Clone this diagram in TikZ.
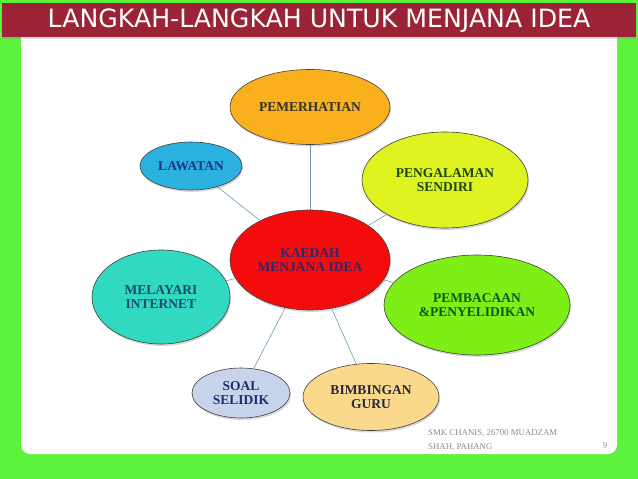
\documentclass[tikz,border=0pt]{standalone}
\usepackage{fontspec}
\setmainfont{Liberation Serif}
\newfontfamily\titlefont{DejaVu Sans}
\usetikzlibrary{shapes.geometric,shadows}

\definecolor{bggreen}{HTML}{5DF23B}
\definecolor{titlered}{HTML}{9B2335}
\definecolor{linkblue}{HTML}{6A9BB3}
\definecolor{cOrange}{HTML}{F9B01C}
\definecolor{cCyan}{HTML}{2AB1DE}
\definecolor{cLime}{HTML}{DEF31F}
\definecolor{cRed}{HTML}{F40C0C}
\definecolor{cTeal}{HTML}{30D9BF}
\definecolor{cGreen}{HTML}{7DEF16}
\definecolor{cGrey}{HTML}{C8D3EC}
\definecolor{cPeach}{HTML}{FAD98D}

\begin{document}
\begin{tikzpicture}[x=1pt, y=-1pt,
    idea/.style={ellipse, draw=black!75, line width=0.6pt, inner sep=0pt,
        align=center, font=\bfseries\fontsize{13.5}{14.5}\selectfont,
        drop shadow={shadow xshift=1pt, shadow yshift=-2pt, opacity=0.3}},
    link/.style={linkblue, line width=0.6pt}]
    \useasboundingbox (0,0) rectangle (638,479);

    % background and slide
    \fill[bggreen] (0,0) rectangle (638,479);
    \fill[white, rounded corners=9pt] (21,20) rectangle (617,454);
    \fill[titlered, drop shadow={shadow xshift=0pt, shadow yshift=-2pt, opacity=0.3}] (2,3) rectangle (636,37);
    \node[text=white, font=\titlefont\fontsize{25.2}{26}\selectfont] (T) at (319,21) {LANGKAH-LANGKAH UNTUK MENJANA IDEA};

    % centre
    \node[idea, fill=cRed, text={rgb,255:red,45;green,40;blue,105}, minimum width=160pt, minimum height=100pt] (K) at (310,260) {KAEDAH\\MENJANA IDEA};

    % ideas round the centre
    \node[idea, fill=cOrange, text=black!80, minimum width=160pt, minimum height=75pt] (PM) at (310,107) {PEMERHATIAN};
    \node[idea, fill=cCyan, text={rgb,255:red,25;green,55;blue,125}, minimum width=102pt, minimum height=48pt] (LW) at (191,166) {LAWATAN};
    \node[idea, fill=cLime, text={rgb,255:red,25;green,70;blue,25}, minimum width=166pt, minimum height=96pt] (PS) at (445,180) {PENGALAMAN\\SENDIRI};
    \node[idea, fill=cTeal, text={rgb,255:red,25;green,75;blue,115}, minimum width=138pt, minimum height=94pt] (MI) at (161,297) {MELAYARI\\INTERNET};
    \node[idea, fill=cGreen, text={rgb,255:red,10;green,90;blue,30}, minimum width=186pt, minimum height=100pt] (PP) at (477,305) {PEMBACAAN\\\&PENYELIDIKAN};
    \node[idea, fill=cGrey, text={rgb,255:red,30;green,45;blue,110}, minimum width=98pt, minimum height=50pt] (SS) at (241,393) {SOAL\\SELIDIK};
    \node[idea, fill=cPeach, text={rgb,255:red,40;green,40;blue,60}, minimum width=136pt, minimum height=67pt] (BG) at (371,397) {BIMBINGAN\\GURU};

    % links
    \foreach \n in {PM,LW,PS,MI,PP,SS,BG} {
        \draw[link] (K) -- (\n);
    }

    % footer
    \node[anchor=north west, align=left, text=black!45, inner sep=0pt,
        font=\fontsize{8.8}{14}\selectfont] (F) at (428,429) {SMK CHANIS, 26700 MUADZAM\\SHAH, PAHANG};
    \node[text=black!45, font=\fontsize{8.8}{9}\selectfont] (N) at (605,446) {9};
\end{tikzpicture}
\end{document}
